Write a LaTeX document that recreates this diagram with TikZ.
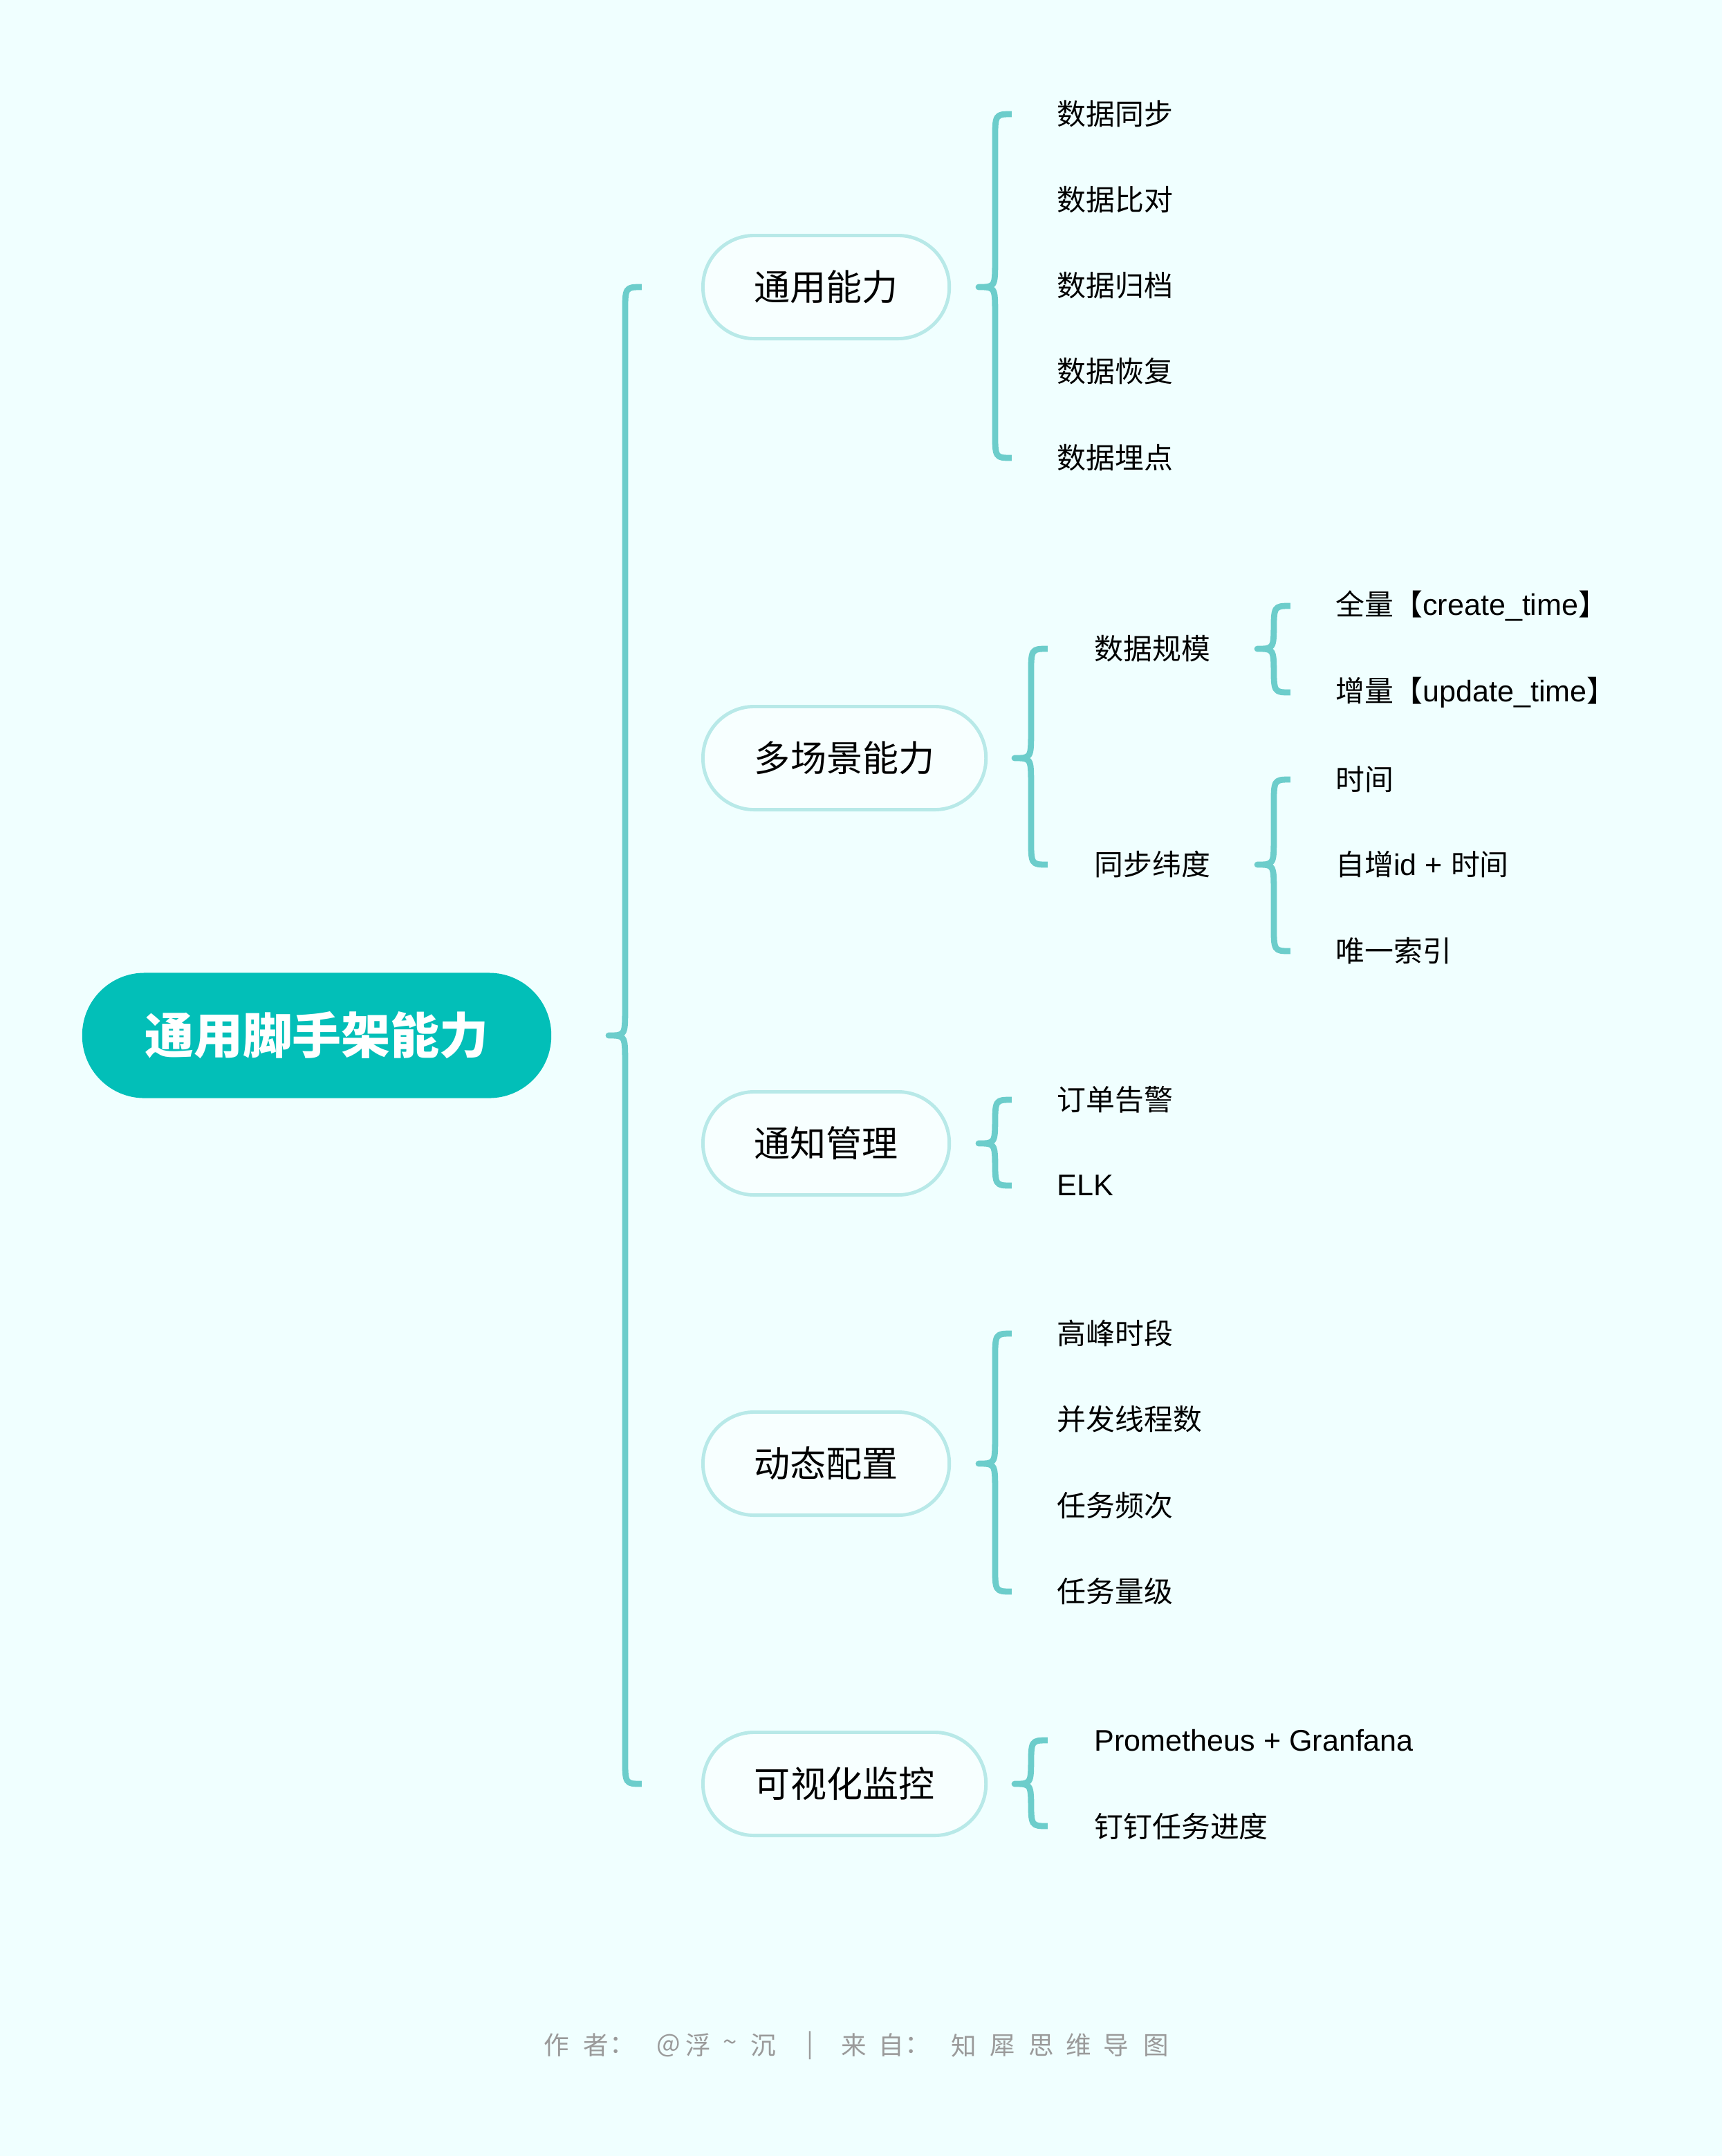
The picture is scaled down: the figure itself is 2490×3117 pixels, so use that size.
\documentclass[tikz,border=0pt]{standalone}
\usepackage{fontspec}
\setmainfont{Noto Sans CJK SC}
\newfontfamily\lat[Scale=1.03]{Liberation Sans}
\usetikzlibrary{calc}
\definecolor{bgc}{HTML}{F0FFFF}
\definecolor{rootc}{HTML}{02BFB8}
\definecolor{bracec}{HTML}{6CCDCB}
\definecolor{pillb}{HTML}{B8E9E8}
\definecolor{pillf}{HTML}{F7FFFF}
\definecolor{footc}{HTML}{9A9A9A}
\newcommand\brW{6.8pt}
\newcommand\brR{11pt}
% #1 tip x, #2 parent, #3 first child, #4 last child
\newcommand\mbrace[4]{%
  \draw[bline] let \p0=(#1,0), \p3=(#2.east), \p1=(#3.west), \p2=(#4.west) in
   ({\x0+2*\brW},\y1) .. controls ({\x0+\brW},\y1) .. ({\x0+\brW},{\y1-\brR})
   -- ({\x0+\brW},{\y3+\brR}) .. controls ({\x0+\brW},\y3) .. (\x0,\y3)
   .. controls ({\x0+\brW},\y3) .. ({\x0+\brW},{\y3-\brR})
   -- ({\x0+\brW},{\y2+\brR}) .. controls ({\x0+\brW},\y2) .. ({\x0+2*\brW},\y2);}
\begin{document}
\begin{tikzpicture}[x=0.01cm,y=-0.01cm,
  rootbox/.style={fill=rootc, rounded corners=0.9cm, minimum width=6.78cm, minimum height=1.81cm,
    text=white, inner sep=0, font=\fontsize{20.2}{24}\selectfont\bfseries},
  pill/.style={draw=pillb, fill=pillf, line width=1.4pt, rounded corners=0.74cm,
    minimum height=1.49cm, anchor=west, inner sep=0, font=\fontsize{14.8}{18}\selectfont},
  leaf/.style={anchor=west, inner sep=0, font=\fontsize{11.9}{14}\selectfont},
  foot/.style={inner sep=0, text=footc, font=\fontsize{10.4}{12}\selectfont},
  bline/.style={draw=bracec, line width=2.5pt, line join=round}]
\fill[bgc] (0,0) rectangle (2490,3117);
\useasboundingbox (0,0) rectangle (2490,3117);

\node[rootbox] (root) at (458,1497) {通用脚手架能力};

\node[pill, minimum width=3.56cm] (c1) at (1014,415) {通用能力};
\node[pill, minimum width=4.09cm] (c2) at (1014,1096) {多场景能力};
\node[pill, minimum width=3.56cm] (c3) at (1014,1653) {通知管理};
\node[pill, minimum width=3.56cm] (c4) at (1014,2116) {动态配置};
\node[pill, minimum width=4.09cm] (c5) at (1014,2579) {可视化监控};

% group 1
\node[leaf] (l11) at (1528,165) {数据同步};
\node[leaf] (l12) at (1528,289) {数据比对};
\node[leaf] (l13) at (1528,413) {数据归档};
\node[leaf] (l14) at (1528,537) {数据恢复};
\node[leaf] (l15) at (1528,662) {数据埋点};

% group 2
\node[leaf] (l21) at (1582,938) {数据规模};
\node[leaf] (l22) at (1582,1250) {同步纬度};
\node[leaf] (l211) at (1931,876) {全量【{\lat create\_time}】};
\node[leaf] (l212) at (1931,1001) {增量【{\lat update\_time}】};
\node[leaf] (l221) at (1931,1127) {时间};
\node[leaf] (l222) at (1931,1250) {自增{\lat id + }时间};
\node[leaf] (l223) at (1931,1375) {唯一索引};

% group 3
\node[leaf] (l31) at (1528,1590) {订单告警};
\node[leaf] (l32) at (1528,1714) {\lat ELK};

% group 4
\node[leaf] (l41) at (1528,1928) {高峰时段};
\node[leaf] (l42) at (1528,2052) {并发线程数};
\node[leaf] (l43) at (1528,2177) {任务频次};
\node[leaf] (l44) at (1528,2301) {任务量级};

% group 5
\node[leaf] (l51) at (1582,2516) {\lat Prometheus + Granfana};
\node[leaf] (l52) at (1582,2640) {钉钉任务进度};

% braces
\mbrace{880}{root}{c1}{c5}
\mbrace{1415}{c1}{l11}{l15}
\mbrace{1467}{c2}{l21}{l22}
\mbrace{1818}{l21}{l211}{l212}
\mbrace{1818}{l22}{l221}{l223}
\mbrace{1415}{c3}{l31}{l32}
\mbrace{1415}{c4}{l41}{l44}
\mbrace{1467}{c5}{l51}{l52}

% footer
\foreach \x/\c [count=\i] in {805/作, 862/者, 900/：, 967/@, 1010/浮, 1056/{\textasciitilde}, 1104/沉, 1171/|, 1235/来, 1289/自, 1327/：, 1394/知, 1450/犀, 1506/思, 1560/维, 1614/导, 1672/图}
  \node[foot] (f\i) at (\x,2957) {\c};
\end{tikzpicture}
\end{document}
